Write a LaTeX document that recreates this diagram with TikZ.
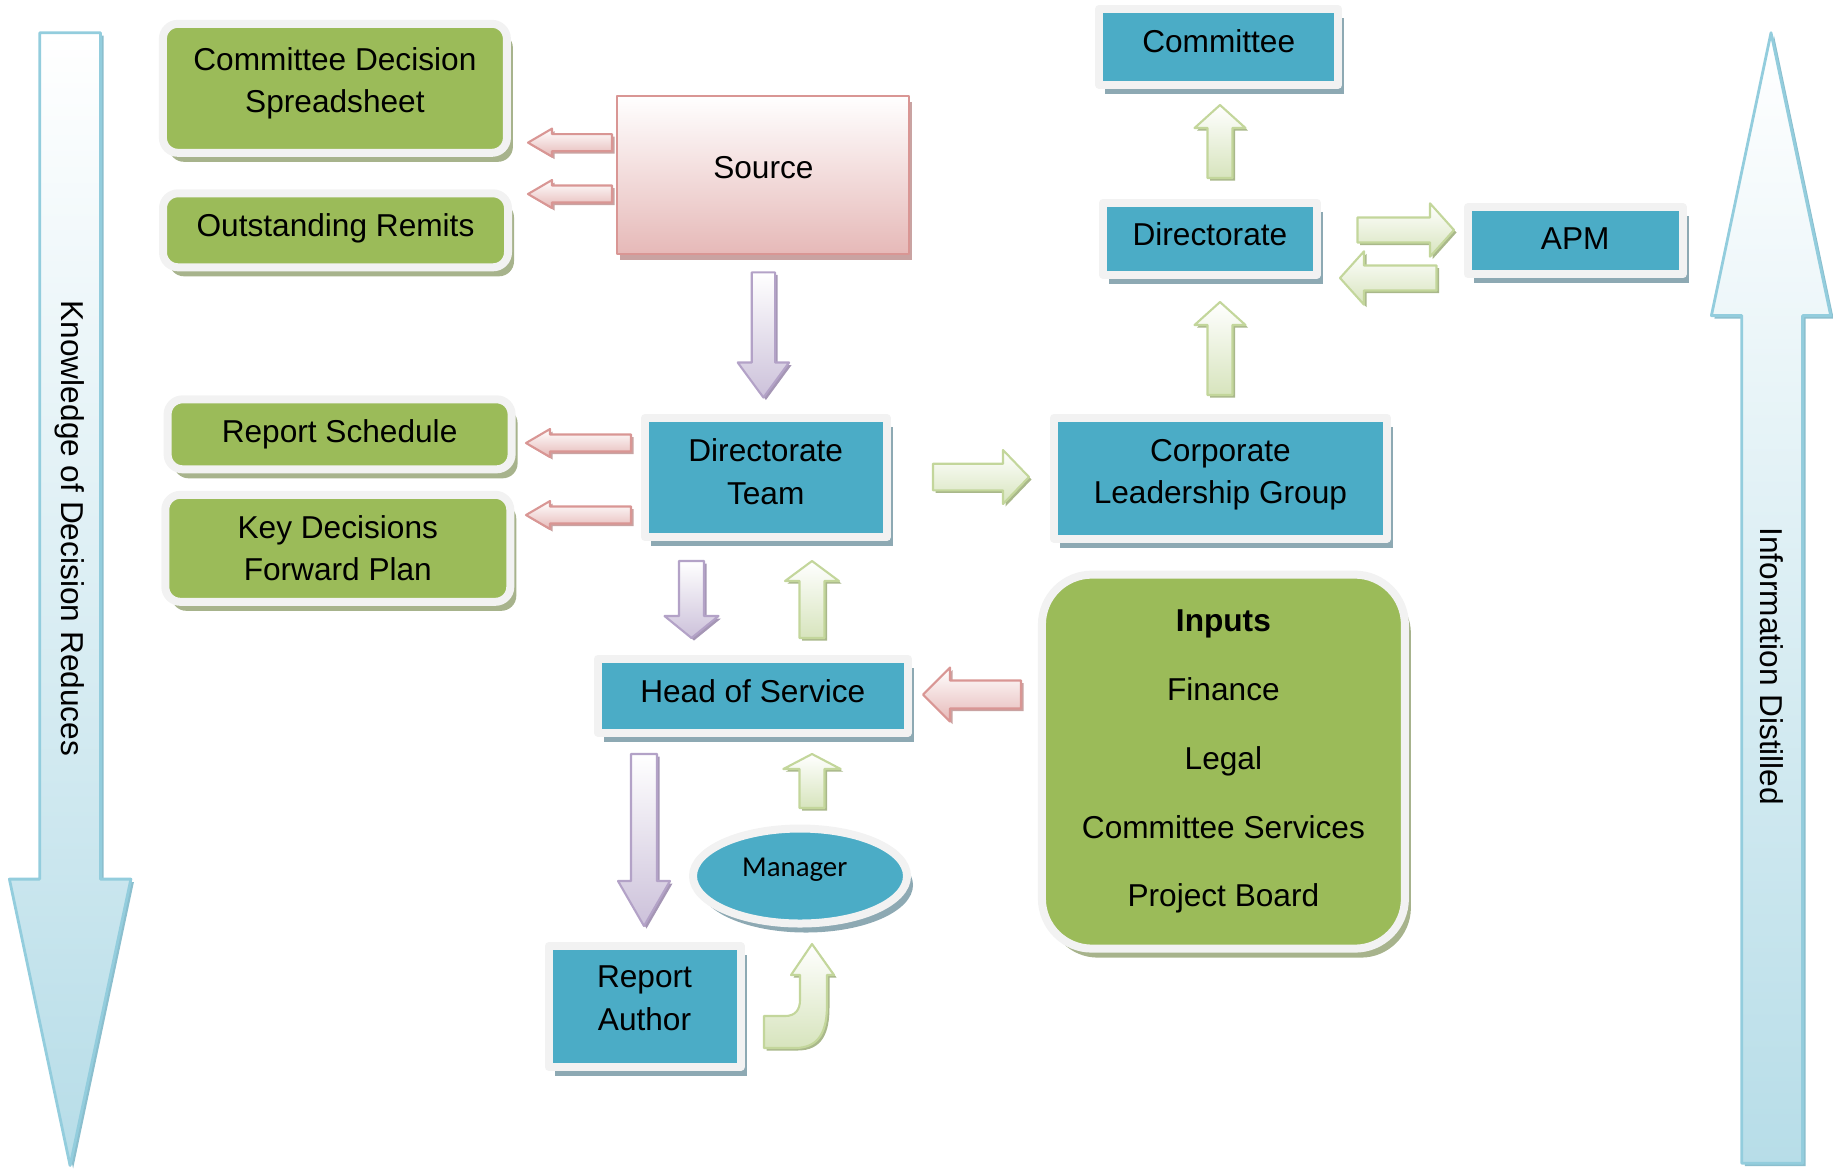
\documentclass[tikz,border=0pt]{standalone}
\usepackage{fontspec}
\setmainfont{Liberation Sans}
\newfontfamily\mgrfont{Carlito}
\usetikzlibrary{calc,shadows,shapes.geometric}

\definecolor{boxblue}{HTML}{4BACC6}
\definecolor{boxgreen}{HTML}{9BBB59}
\definecolor{framegray}{HTML}{F2F2F2}
\definecolor{shblue}{HTML}{8DA9B3}
\definecolor{shgreen}{HTML}{A7B38C}
\definecolor{pinkb}{HTML}{E6B9B8}
\definecolor{pinkd}{HTML}{D99694}
\definecolor{pinksh}{HTML}{C9A3A2}
\definecolor{lilacb}{HTML}{CCC1DA}
\definecolor{lilacd}{HTML}{B3A2C7}
\definecolor{lilacsh}{HTML}{A596B5}
\definecolor{leafb}{HTML}{D7E4BD}
\definecolor{leafd}{HTML}{C3D69B}
\definecolor{leafsh}{HTML}{A9B88A}
\definecolor{skyb}{HTML}{B7DDE8}
\definecolor{skyd}{HTML}{93CDDD}
\definecolor{skysh}{HTML}{8BBFCE}

\tikzset{
  boxbase/.style={draw=framegray, line width=0.08cm, align=center, inner sep=2pt},
  bluebox/.style={boxbase, fill=boxblue,
    drop shadow={shadow xshift=0.06cm, shadow yshift=-0.09cm, fill=shblue, opacity=1}},
  greenbox/.style={boxbase, fill=boxgreen, rounded corners=0.15cm,
    drop shadow={shadow xshift=0.06cm, shadow yshift=-0.09cm, fill=shgreen, opacity=1}},
  srcbox/.style={draw=pinkd, line width=0.6pt, top color=white, bottom color=pinkb,
    drop shadow={shadow xshift=0.03cm, shadow yshift=-0.06cm, fill=pinksh, opacity=1}},
  pinkarr/.style={draw=pinkd, line width=0.6pt, top color=white, bottom color=pinkb,
    drop shadow={shadow xshift=0.025cm, shadow yshift=-0.025cm, fill=pinksh, opacity=1}},
  lilacarr/.style={draw=lilacd, line width=0.6pt, top color=white, bottom color=lilacb,
    drop shadow={shadow xshift=0.025cm, shadow yshift=-0.025cm, fill=lilacsh, opacity=1}},
  leafarr/.style={draw=leafd, line width=0.6pt, top color=white, bottom color=leafb,
    drop shadow={shadow xshift=0.025cm, shadow yshift=-0.025cm, fill=leafsh, opacity=1}},
  bigarr/.style={draw=skyd, line width=0.8pt, top color=white, bottom color=skyb,
    drop shadow={shadow xshift=0.03cm, shadow yshift=-0.03cm, fill=skysh, opacity=1}}
}

% block arrow: style, from, to, shaft half width, head half width, head length
\newcommand{\barrow}[6]{%
  \path[#1] ($(#2)!#4!90:(#3)$) -- ($(#3)!#6!(#2)!#4!-90:(#2)$)
    -- ($(#3)!#6!(#2)!#5!-90:(#2)$) -- (#3)
    -- ($(#3)!#6!(#2)!#5!90:(#2)$) -- ($(#3)!#6!(#2)!#4!90:(#2)$)
    -- ($(#2)!#4!-90:(#3)$) -- cycle;}

\begin{document}
\begin{tikzpicture}[font=\fontsize{9}{12}\selectfont, line join=round, line cap=round]
\useasboundingbox (0,0) rectangle (18.33,-11.68);
% side arrows
\shade[bigarr] (0.397,-0.327) -- (1.005,-0.327) -- (1.005,-8.791) -- (1.309,-8.791)
  -- (0.701,-11.655) -- (0.094,-8.791) -- (0.397,-8.791) -- cycle;
\shade[bigarr] (17.71,-0.327) -- (18.307,-3.156) -- (18.026,-3.156) -- (18.026,-11.632)
  -- (17.418,-11.632) -- (17.418,-3.156) -- (17.114,-3.156) -- cycle;
\node[rotate=-90] (knw) at (0.701,-5.284) {Knowledge of Decision Reduces};
\node[rotate=-90] (inf) at (17.72,-6.663) {Information Distilled};

% boxes
\node[greenbox, text depth=4.9pt, minimum width=3.44cm, minimum height=1.29cm] (cds) at (3.349,-0.883) {Committee Decision\\Spreadsheet};
\node[greenbox, text depth=3.2pt, minimum width=3.45cm, minimum height=0.74cm] (rem) at (3.355,-2.303) {Outstanding Remits};
\node[greenbox, minimum width=3.44cm, minimum height=0.70cm] (rsch) at (3.396,-4.343) {Report Schedule};
\node[greenbox, minimum width=3.45cm, minimum height=1.07cm] (kdfp) at (3.378,-5.483) {Key Decisions\\Forward Plan};
\node[srcbox, text depth=4.1pt, minimum width=2.92cm, minimum height=1.58cm] (src) at (7.634,-1.748) {Source};
\node[bluebox, text depth=3.4pt, minimum width=2.42cm, minimum height=1.19cm] (dt) at (7.657,-4.775) {Directorate\\Team};
\node[bluebox, text depth=3.9pt, minimum width=3.33cm, minimum height=1.21cm] (clg) at (12.204,-4.781) {Corporate\\Leadership Group};
\node[bluebox, text depth=2.8pt, minimum width=2.14cm, minimum height=0.72cm] (dir) at (12.099,-2.385) {Directorate};
\node[bluebox, text depth=3.4pt, minimum width=2.39cm, minimum height=0.76cm] (com) at (12.187,-0.468) {Committee};
\node[bluebox, text depth=1.3pt, minimum width=2.15cm, minimum height=0.67cm] (apm) at (15.752,-2.408) {APM};
\node[bluebox, text depth=2.8pt, minimum width=3.10cm, minimum height=0.74cm] (hos) at (7.528,-6.956) {Head of Service};
\node[greenbox, rounded corners=0.5cm, minimum width=3.63cm, minimum height=3.74cm] (inp) at (12.234,-7.616)
  {\bfseries Inputs\\[7.6pt] Finance\\[7.6pt] Legal\\[7.6pt] Committee Services\\[7.6pt] Project Board};
\node[bluebox, ellipse, text depth=4.9pt, minimum width=2.14cm, minimum height=0.95cm] (mgr) at (8.00,-8.76)
  {\mgrfont\fontsize{8.2}{10}\selectfont Manager\hspace{3pt}};
\node[bluebox, text depth=4.8pt, minimum width=1.92cm, minimum height=1.21cm] (ra) at (6.445,-10.065) {Report\\Author};

% arrow ends
\foreach \n/\x/\y in {srcA/6.12/-1.426, cdsA/5.28/-1.426, srcB/6.12/-1.94, remA/5.28/-1.94,
  dtA/6.31/-4.43, rschA/5.26/-4.43, dtB/6.31/-5.15, kdA/5.26/-5.15,
  srcC/7.634/-2.724, dtC/7.634/-3.975, dtD/9.33/-4.77, clgA/10.29/-4.77,
  clgB/12.20/-3.95, dirA/12.20/-3.02, dirB/12.20/-1.78, comA/12.20/-1.05,
  dirC/13.575/-2.30, apmA/14.54/-2.30, apmB/14.365/-2.78, dirD/13.40/-2.78,
  dtE/6.915/-5.61, hosA/6.915/-6.38, hosB/8.12/-6.38, dtF/8.12/-5.61,
  hosC/6.44/-7.54, raA/6.44/-9.26, mgrA/8.12/-8.08, hosD/8.12/-7.54,
  inpA/10.21/-6.945, hosE/9.23/-6.945}
  \coordinate (\n) at (\x,\y);

% arrows
\barrow{pinkarr}{srcA}{cdsA}{0.085cm}{0.14cm}{0.24cm}
\barrow{pinkarr}{srcB}{remA}{0.085cm}{0.14cm}{0.24cm}
\barrow{pinkarr}{dtA}{rschA}{0.085cm}{0.14cm}{0.24cm}
\barrow{pinkarr}{dtB}{kdA}{0.085cm}{0.14cm}{0.24cm}
\barrow{pinkarr}{inpA}{hosE}{0.14cm}{0.27cm}{0.27cm}
\barrow{lilacarr}{srcC}{dtC}{0.117cm}{0.257cm}{0.35cm}
\barrow{lilacarr}{dtE}{hosA}{0.125cm}{0.27cm}{0.22cm}
\barrow{lilacarr}{hosC}{raA}{0.13cm}{0.26cm}{0.45cm}
\barrow{leafarr}{dtD}{clgA}{0.133cm}{0.27cm}{0.26cm}
\barrow{leafarr}{clgB}{dirA}{0.125cm}{0.255cm}{0.23cm}
\barrow{leafarr}{dirB}{comA}{0.125cm}{0.255cm}{0.23cm}
\barrow{leafarr}{dirC}{apmA}{0.125cm}{0.267cm}{0.24cm}
\barrow{leafarr}{apmB}{dirD}{0.125cm}{0.267cm}{0.24cm}
\barrow{leafarr}{hosB}{dtF}{0.125cm}{0.27cm}{0.2cm}
\barrow{leafarr}{mgrA}{hosD}{0.125cm}{0.287cm}{0.15cm}
% bent arrow from the author up to the manager
\shade[leafarr] (7.64,-10.48) -- (7.95,-10.48) .. controls (8.2,-10.48) and (8.27,-10.3) .. (8.27,-10.05)
  -- (8.27,-9.75) -- (8.34,-9.75) -- (8.12,-9.44) -- (7.91,-9.75) -- (8.0,-9.75) -- (8.0,-10.0)
  .. controls (8.0,-10.1) and (7.95,-10.16) .. (7.85,-10.16) -- (7.64,-10.16) -- cycle;
\end{tikzpicture}
\end{document}
